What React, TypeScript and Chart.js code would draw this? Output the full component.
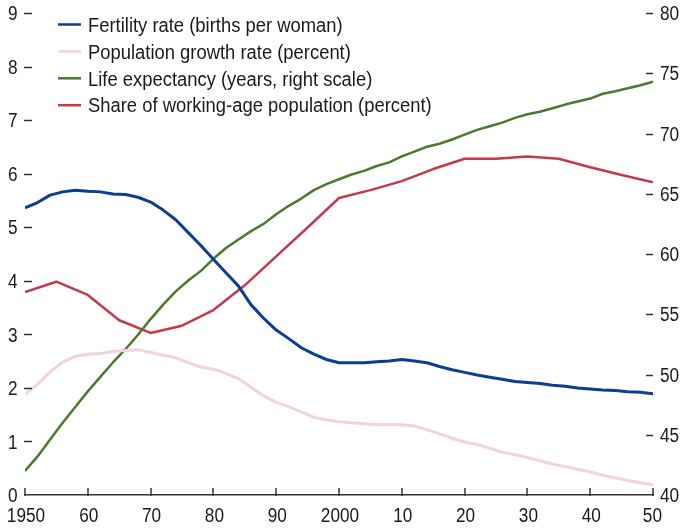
import React, { useEffect, useRef } from "react";
import { Chart, registerables } from "chart.js";

Chart.register(...registerables);

const years = [
  1950, 1952, 1954, 1956, 1958, 1960, 1962, 1964, 1966, 1968, 1970, 1972, 1974, 1976, 1978,
  1980, 1982, 1984, 1986, 1988, 1990, 1992, 1994, 1996, 1998, 2000, 2002, 2004, 2006, 2008,
  2010, 2012, 2014, 2016, 2018, 2020, 2022, 2024, 2026, 2028, 2030, 2032, 2034, 2036, 2038,
  2040, 2042, 2044, 2046, 2048, 2050,
];

const fertility = [
  5.36, 5.46, 5.6, 5.66, 5.69, 5.67, 5.66, 5.62, 5.61, 5.56, 5.47, 5.32, 5.14, 4.9, 4.66,
  4.4, 4.15, 3.9, 3.55, 3.3, 3.08, 2.92, 2.75, 2.63, 2.53, 2.47, 2.47, 2.47, 2.49, 2.5,
  2.53, 2.5, 2.47, 2.4, 2.34, 2.29, 2.24, 2.2, 2.16, 2.12, 2.1, 2.08, 2.05, 2.03, 2.0,
  1.98, 1.96, 1.95, 1.93, 1.92, 1.89,
];

const popGrowth = [
  1.88, 2.07, 2.3, 2.48, 2.59, 2.63, 2.64, 2.68, 2.7, 2.71, 2.66, 2.61, 2.56, 2.47, 2.39,
  2.35, 2.27, 2.17, 2.01, 1.85, 1.73, 1.65, 1.55, 1.45, 1.4, 1.37, 1.35, 1.33, 1.31, 1.31,
  1.31, 1.29, 1.22, 1.14, 1.06, 0.99, 0.94, 0.87, 0.8, 0.75, 0.7, 0.64, 0.58, 0.53, 0.48,
  0.43, 0.37, 0.32, 0.27, 0.23, 0.19,
];

const lifeExpectancy = [
  42.0, 43.2, 44.6, 46.0, 47.3, 48.6, 49.8, 51.0, 52.1, 53.3, 54.6, 55.8, 56.9, 57.8, 58.6,
  59.6, 60.5, 61.2, 61.9, 62.5, 63.3, 64.0, 64.6, 65.3, 65.8, 66.2, 66.6, 66.9, 67.3, 67.6,
  68.1, 68.5, 68.9, 69.15, 69.5, 69.9, 70.3, 70.6, 70.9, 71.3, 71.6, 71.8, 72.1, 72.4, 72.65,
  72.9, 73.3, 73.5, 73.75, 74.0, 74.3,
];

const workingYears = [
  1950, 1955, 1960, 1965, 1970, 1975, 1980, 1985, 1990, 1995, 2000, 2005, 2010, 2015, 2020,
  2025, 2030, 2035, 2040, 2045, 2050,
];

const workingShare = [
  56.85, 57.7, 56.6, 54.5, 53.45, 54.05, 55.35, 57.4, 59.8, 62.2, 64.65, 65.3, 66.05, 67.05,
  67.9, 67.9, 68.1, 67.9, 67.2, 66.55, 65.95,
];

const seriesLabels = [
  "Fertility rate (births per woman)",
  "Population growth rate (percent)",
  "Life expectancy (years, right scale)",
  "Share of working-age population (percent)",
];

const seriesColors = ["#0b3d91", "#f2d3d9", "#4a7a2c", "#c23a4c"];

const FONT = "'Liberation Sans', Arial, sans-serif";
const TEXT_COLOR = "#1a1a1a";

const zip = (xs: number[], ys: number[]) => xs.map((x, i) => ({ x, y: ys[i] }));

const xLabel = (n: number) =>
  n === 1950 || n === 2000 ? String(n) : String(n % 100).padStart(2, "0");

function drawScaled(
  ctx: CanvasRenderingContext2D,
  text: string,
  x: number,
  y: number,
  align: CanvasTextAlign,
  sx: number
) {
  ctx.save();
  ctx.translate(x, y);
  ctx.scale(sx, 1);
  ctx.textAlign = align;
  ctx.textBaseline = "alphabetic";
  ctx.fillText(text, 0, 0);
  ctx.restore();
}

const axesDecor = {
  id: "axesDecor",
  afterDraw(chart: any) {
    const ctx = chart.ctx;
    const { left, right, bottom } = chart.chartArea;
    ctx.save();
    ctx.strokeStyle = "#333333";
    ctx.lineWidth = 1.5;
    ctx.fillStyle = TEXT_COLOR;
    ctx.font = `20px ${FONT}`;
    const SX = 0.86;

    const yL = chart.scales.y;
    yL.ticks.forEach((t: any) => {
      const py = yL.getPixelForValue(t.value);
      if (t.value !== 0) {
        const ly = Math.round(py) + 0.5;
        ctx.beginPath();
        ctx.moveTo(left - 1, ly);
        ctx.lineTo(left + 7, ly);
        ctx.stroke();
      }
      drawScaled(ctx, String(t.value), 17.5, py + 7.2, "right", SX);
    });

    const yR = chart.scales.y2;
    yR.ticks.forEach((t: any) => {
      const py = yR.getPixelForValue(t.value);
      if (t.value !== 40) {
        const ly = Math.round(py) + 0.5;
        ctx.beginPath();
        ctx.moveTo(right - 7, ly);
        ctx.lineTo(right, ly);
        ctx.stroke();
      }
      drawScaled(ctx, String(t.value), 660, py + 7.2, "left", SX);
    });

    const xs = chart.scales.x;
    xs.ticks.forEach((t: any) => {
      const px = xs.getPixelForValue(t.value);
      const lx = Math.round(px);
      ctx.beginPath();
      ctx.moveTo(lx, bottom + 1);
      ctx.lineTo(lx, bottom - 7);
      ctx.stroke();
      if (t.value === 2050) {
        drawScaled(ctx, xLabel(t.value), 662, 521.5, "right", SX);
      } else {
        drawScaled(ctx, xLabel(t.value), px + 1, 521.5, "center", SX);
      }
    });
    ctx.restore();
  },
};

const customLegend = {
  id: "customLegend",
  afterDraw(chart: any) {
    const ctx = chart.ctx;
    ctx.save();
    ctx.font = `20px ${FONT}`;
    chart.data.datasets.forEach((ds: any, i: number) => {
      const y = 24.5 + i * 26.9;
      ctx.strokeStyle = ds.borderColor;
      ctx.lineWidth = 2.5;
      ctx.beginPath();
      ctx.moveTo(58, y);
      ctx.lineTo(81, y);
      ctx.stroke();
      ctx.fillStyle = TEXT_COLOR;
      drawScaled(ctx, ds.label, 88, y + 7.2, "left", 0.92);
    });
    ctx.restore();
  },
};

export default function App() {
  const canvasRef = useRef<HTMLCanvasElement | null>(null);

  useEffect(() => {
    if (!canvasRef.current) return;
    const chart = new Chart(canvasRef.current, {
      type: "line",
      data: {
        datasets: [
          {
            label: seriesLabels[0],
            data: zip(years, fertility),
            borderColor: seriesColors[0],
            borderWidth: 3,
            yAxisID: "y",
          },
          {
            label: seriesLabels[1],
            data: zip(years, popGrowth),
            borderColor: seriesColors[1],
            borderWidth: 3,
            yAxisID: "y",
          },
          {
            label: seriesLabels[2],
            data: zip(years, lifeExpectancy),
            borderColor: seriesColors[2],
            borderWidth: 2.5,
            yAxisID: "y2",
          },
          {
            label: seriesLabels[3],
            data: zip(workingYears, workingShare),
            borderColor: seriesColors[3],
            borderWidth: 2.5,
            yAxisID: "y2",
          },
        ],
      },
      options: {
        animation: false,
        responsive: false,
        maintainAspectRatio: false,
        parsing: false as any,
        elements: {
          point: { radius: 0, hoverRadius: 0 },
          line: { tension: 0, borderCapStyle: "butt", borderJoinStyle: "round" },
        },
        layout: { padding: { top: 13, left: 0, right: 0, bottom: 0 } },
        plugins: {
          legend: { display: false },
          tooltip: { enabled: false },
        },
        scales: {
          x: {
            type: "linear",
            min: 1950,
            max: 2050,
            afterFit: (s: any) => {
              s.height = 33;
            },
            grid: { display: false },
            border: { display: true, color: "#333333", width: 1.5 },
            ticks: { stepSize: 10, autoSkip: false, display: false },
          },
          y: {
            position: "left",
            min: 0,
            max: 9,
            afterFit: (s: any) => {
              s.width = 25;
            },
            grid: { display: false },
            border: { display: false },
            ticks: { stepSize: 1, display: false },
          },
          y2: {
            position: "right",
            min: 40,
            max: 80,
            afterFit: (s: any) => {
              s.width = 30;
            },
            grid: { display: false },
            border: { display: false },
            ticks: { stepSize: 5, display: false },
          },
        },
      },
      plugins: [axesDecor, customLegend],
    });
    return () => chart.destroy();
  }, []);

  return (
    <div
      style={{
        position: "fixed",
        left: 0,
        top: 0,
        width: 683,
        height: 528,
        background: "#ffffff",
      }}
    >
      <canvas ref={canvasRef} width={683} height={528} style={{ display: "block" }} />
    </div>
  );
}
